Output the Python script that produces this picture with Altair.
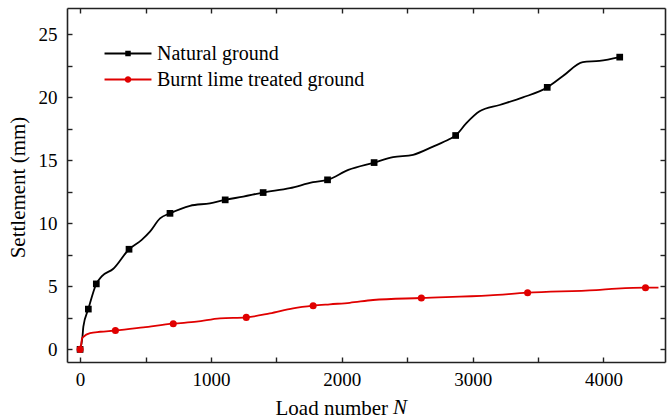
import altair as alt
import pandas as pd

FONT = "Liberation Serif"

# ---- data ----
series_names = ["Natural ground", "Burnt lime treated ground"]
series_colors = ["#000000", "#e00000"]

natural_x = [0, 18, 25, 63, 124, 165, 254, 374, 471, 534, 611, 687, 840, 992, 1109,
             1247, 1399, 1603, 1781, 1891, 2050, 2247, 2392, 2545, 2697, 2824, 2870,
             2952, 3053, 3206, 3384, 3570, 3690, 3842, 3969, 4124]
natural_y = [0, 1.0, 1.8, 3.2, 5.2, 5.8, 6.4, 7.95, 8.7, 9.35, 10.4, 10.8, 11.4, 11.6, 11.87,
             12.13, 12.45, 12.8, 13.27, 13.46, 14.25, 14.83, 15.26, 15.45, 16.1, 16.7, 16.98,
             17.96, 18.9, 19.4, 20.0, 20.8, 21.7, 22.8, 22.9, 23.2]

burnt_x = [0, 8, 15, 25, 76, 153, 270, 483, 712, 890, 1069, 1270, 1450, 1628, 1781,
           1908, 2061, 2239, 2608, 3130, 3420, 3944, 4100, 4321, 4420]
burnt_y = [0, 0.34, 0.87, 1.0, 1.3, 1.4, 1.5, 1.75, 2.04, 2.2, 2.46, 2.54, 2.86, 3.26, 3.47,
           3.58, 3.7, 3.92, 4.08, 4.29, 4.5, 4.71, 4.82, 4.9, 4.9]

natural_marker_x = [0, 63, 124, 374, 687, 1109, 1399, 1891, 2247, 2870, 3570, 4124]
natural_marker_y = [0, 3.2, 5.2, 7.95, 10.8, 11.87, 12.45, 13.46, 14.83, 16.98, 20.8, 23.2]

burnt_marker_x = [0, 270, 712, 1270, 1781, 2608, 3420, 4321]
burnt_marker_y = [0, 1.5, 2.04, 2.54, 3.47, 4.08, 4.5, 4.9]

x_tick_values = [0, 500, 1000, 1500, 2000, 2500, 3000, 3500, 4000]
y_tick_values = [0, 2.5, 5, 7.5, 10, 12.5, 15, 17.5, 20, 22.5, 25]

x_title = "Load number"
x_title_var = "N"
y_title = "Settlement (mm)"

# ---- tables ----
nat_curve = pd.DataFrame({"N": natural_x, "S": natural_y})
burnt_curve = pd.DataFrame({"N": burnt_x, "S": burnt_y})
nat_markers = pd.DataFrame({"N": natural_marker_x, "S": natural_marker_y})
burnt_markers = pd.DataFrame({"N": burnt_marker_x, "S": burnt_marker_y})
legend_rows = pd.DataFrame({"series": series_names})

xscale = alt.Scale(domain=[-100, 4470], nice=False, zero=False)
yscale = alt.Scale(domain=[-1, 27.1], nice=False, zero=False)
color_scale = alt.Scale(domain=series_names, range=series_colors)

INWARD = {"expr": "-5"}

common_axis = dict(
    domainColor="#222222", domainWidth=1.6, tickColor="#222222", tickWidth=1.4,
    tickSize=INWARD, grid=False, labelFont=FONT, labelFontSize=19, labelColor="black",
    titleFont=FONT, titleFontSize=21, titleFontWeight="normal", titleColor="black",
)

x_bottom = alt.Axis(
    orient="bottom", values=x_tick_values,
    labelExpr="datum.value % 1000 === 0 ? format(datum.value, 'd') : ''",
    labelPadding=13, labelOverlap=False, labelFlush=False,
    title=x_title, titleAlign="left", titleBaseline="alphabetic", titleX=208, titleY=52,
    **common_axis,
)
y_left = alt.Axis(
    orient="left", values=y_tick_values,
    labelExpr="datum.value % 5 === 0 ? format(datum.value, 'd') : ''",
    labelPadding=15, labelOverlap=False, labelFlush=False,
    title=y_title, titleAngle=270, titleAlign="center", titleBaseline="middle",
    titleX=-49, titleY=179,
    **common_axis,
)
x_top = alt.Axis(orient="top", values=x_tick_values, labels=False, title=None, **common_axis)
y_right = alt.Axis(orient="right", values=y_tick_values, labels=False, title=None, **common_axis)

# legend symbols: line segment + marker, drawn with strokes only
SQ = "M-7,0H7M-0.55,-0.55H0.55V0.55H-0.55Z"
CI = ("M-7,0H7M-0.73,0A0.73,0.73,0,1,0,0.73,0A0.73,0.73,0,1,0,-0.73,0Z"
      "M-0.22,0A0.22,0.22,0,1,0,0.22,0A0.22,0.22,0,1,0,-0.22,0Z")

legend = alt.Legend(
    orient="none", legendX=51, legendY=35.5, title=None, padding=0,
    labelFont=FONT, labelFontSize=20, labelColor="black", labelLimit=400,
    labelOffset=19, rowPadding=6, symbolSize=45, symbolStrokeWidth=1.8,
    symbolOpacity=1,
)

nat_line = alt.Chart(nat_curve).mark_line(
    interpolate="monotone", strokeWidth=1.8, color=series_colors[0]
).encode(
    x=alt.X("N:Q", scale=xscale, axis=x_bottom),
    y=alt.Y("S:Q", scale=yscale, axis=y_left),
)

burnt_line = alt.Chart(burnt_curve).mark_line(
    interpolate="monotone", strokeWidth=1.8, color=series_colors[1]
).encode(
    x=alt.X("N:Q", scale=xscale, axis=None),
    y=alt.Y("S:Q", scale=yscale, axis=None),
)

nat_pts = alt.Chart(nat_markers).mark_point(
    shape="square", filled=True, size=45, color=series_colors[0], opacity=1
).encode(
    x=alt.X("N:Q", scale=xscale, axis=x_top),
    y=alt.Y("S:Q", scale=yscale, axis=y_right),
)

burnt_pts = alt.Chart(burnt_markers).mark_point(
    shape="circle", filled=True, size=50, color=series_colors[1], opacity=1
).encode(
    x=alt.X("N:Q", scale=xscale, axis=None),
    y=alt.Y("S:Q", scale=yscale, axis=None),
)

legend_layer = alt.Chart(legend_rows).mark_point(filled=False, opacity=0, size=45).encode(
    x=alt.value(0), y=alt.value(0),
    color=alt.Color("series:N", scale=color_scale, legend=legend),
    shape=alt.Shape("series:N", scale=alt.Scale(domain=series_names, range=[SQ, CI]),
                    legend=legend),
)

title_var = alt.Chart(pd.DataFrame({"t": [x_title_var]})).mark_text(
    font=FONT, fontSize=21, fontStyle="italic", align="left", baseline="alphabetic", color="black"
).encode(text="t:N", x=alt.value(326), y=alt.value(406))

chart = alt.layer(nat_line, nat_pts, burnt_line, burnt_pts, legend_layer, title_var).resolve_axis(
    x="independent", y="independent"
).properties(
    width=598, height=354, autosize="none",
    padding={"left": 67, "top": 8, "right": 2, "bottom": 57},
    background="white",
).configure_view(
    stroke=None
).configure_axis(
    labelFont=FONT, titleFont=FONT
).configure_legend(
    labelFont=FONT
).configure_text(
    font=FONT
)

chart.save("out.html", embed_options={"renderer": "svg", "actions": False})
